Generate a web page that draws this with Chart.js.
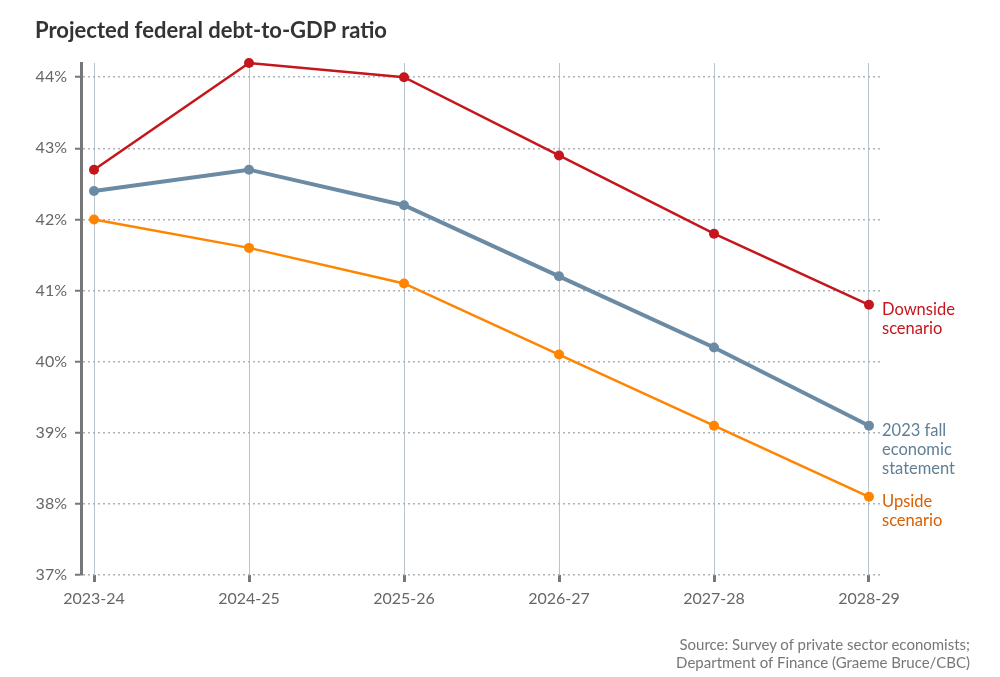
<!DOCTYPE html>
<html>
<head>
<meta charset="utf-8">
<script src="https://cdn.jsdelivr.net/npm/chart.js@4"></script>
<style>
  body { margin: 0; background: #fff; font-family: Lato, sans-serif; }
  #wrap { position: relative; width: 1000px; height: 677px; }
  #title { position: absolute; left: 35px; top: 16px; font-size: 22px; font-weight: bold; color: #333; }
  #source { position: absolute; right: 30px; top: 635px; font-size: 15px; line-height: 18px; color: #777; text-align: right; }
  canvas { position: absolute; left: 0; top: 0; }
</style>
</head>
<body>
<div id="wrap">
  <canvas id="chart" width="1000" height="677"></canvas>
  <div id="title">Projected federal debt-to-GDP ratio</div>
  <div id="source">Source: Survey of private sector economists;<br>Department of Finance (Graeme Bruce/CBC)</div>
</div>
<script>
var years = ["2023-24", "2024-25", "2025-26", "2026-27", "2027-28", "2028-29"];
var downside = [42.7, 44.2, 44.0, 42.9, 41.8, 40.8];
var fallStatement = [42.4, 42.7, 42.2, 41.2, 40.2, 39.1];
var upside = [42.0, 41.6, 41.1, 40.1, 39.1, 38.1];
var yTicks = [37, 38, 39, 40, 41, 42, 43, 44];

var labels = [
    {lines: ["Downside", "scenario"], color: "#c4161c"},
    {lines: ["2023 fall", "economic", "statement"], color: "#5f7f96"},
    {lines: ["Upside", "scenario"], color: "#d95f00"}
];

function toPoints(values){
    return values.map(function(v, i){ return {x: i, y: v}; });
}

function series(values, color, width){
    return {
        data: toPoints(values),
        borderColor: color,
        backgroundColor: color,
        borderWidth: width,
        pointRadius: 5,
        pointHoverRadius: 5,
        pointBorderWidth: 0,
        clip: false,
        tension: 0
    };
}

// labels at the end of each line
var endLabels = {
    id: "endLabels",
    afterDatasetsDraw: function(chart){
        var ctx = chart.ctx;
        ctx.save();
        ctx.font = "16.5px Lato, sans-serif";
        ctx.textAlign = "left";
        ctx.textBaseline = "middle";
        chart.data.datasets.forEach(function(ds, i){
            var meta = chart.getDatasetMeta(i);
            var last = meta.data[meta.data.length - 1];
            ctx.fillStyle = labels[i].color;
            labels[i].lines.forEach(function(line, j){
                ctx.fillText(line, last.x + 13, last.y + 5 + j * 19);
            });
        });
        ctx.restore();
    }
};

new Chart(document.getElementById("chart"), {
    type: "line",
    data: {
        datasets: [
            series(downside, "#c4161c", 2.5),
            series(fallStatement, "#6b8ba4", 4),
            series(upside, "#ff8400", 2.5)
        ]
    },
    plugins: [endLabels],
    options: {
        responsive: false,
        animation: false,
        layout: {padding: {top: 63, right: 120, left: 0, bottom: 0}},
        plugins: {legend: {display: false}, tooltip: {enabled: false}},
        scales: {
            x: {
                type: "linear",
                min: -0.084,
                max: 5.071,
                afterBuildTicks: function(s){
                    s.ticks = years.map(function(y, i){ return {value: i}; });
                },
                afterFit: function(s){ s.height = 102; },
                ticks: {
                    callback: function(v){ return years[v]; },
                    color: "#666",
                    font: {family: "Lato", size: 16},
                    padding: 7,
                    maxRotation: 0
                },
                grid: {
                    color: "#b9c5ce",
                    lineWidth: 1,
                    tickLength: 7,
                    tickColor: "#777",
                    tickWidth: 3
                },
                border: {display: false}
            },
            y: {
                min: 37,
                max: 44.2,
                afterBuildTicks: function(s){
                    s.ticks = yTicks.map(function(v){ return {value: v}; });
                },
                afterFit: function(s){ s.width = 81; },
                ticks: {
                    callback: function(v){ return v + "%"; },
                    color: "#666",
                    font: {family: "Lato", size: 16},
                    padding: 8
                },
                grid: {
                    color: "#a9b3bb",
                    lineWidth: 1.5,
                    tickLength: 6,
                    tickColor: "#777",
                    tickWidth: 2
                },
                border: {display: true, color: "#777", width: 3, dash: [2, 3]}
            }
        }
    }
});
</script>
</body>
</html>
